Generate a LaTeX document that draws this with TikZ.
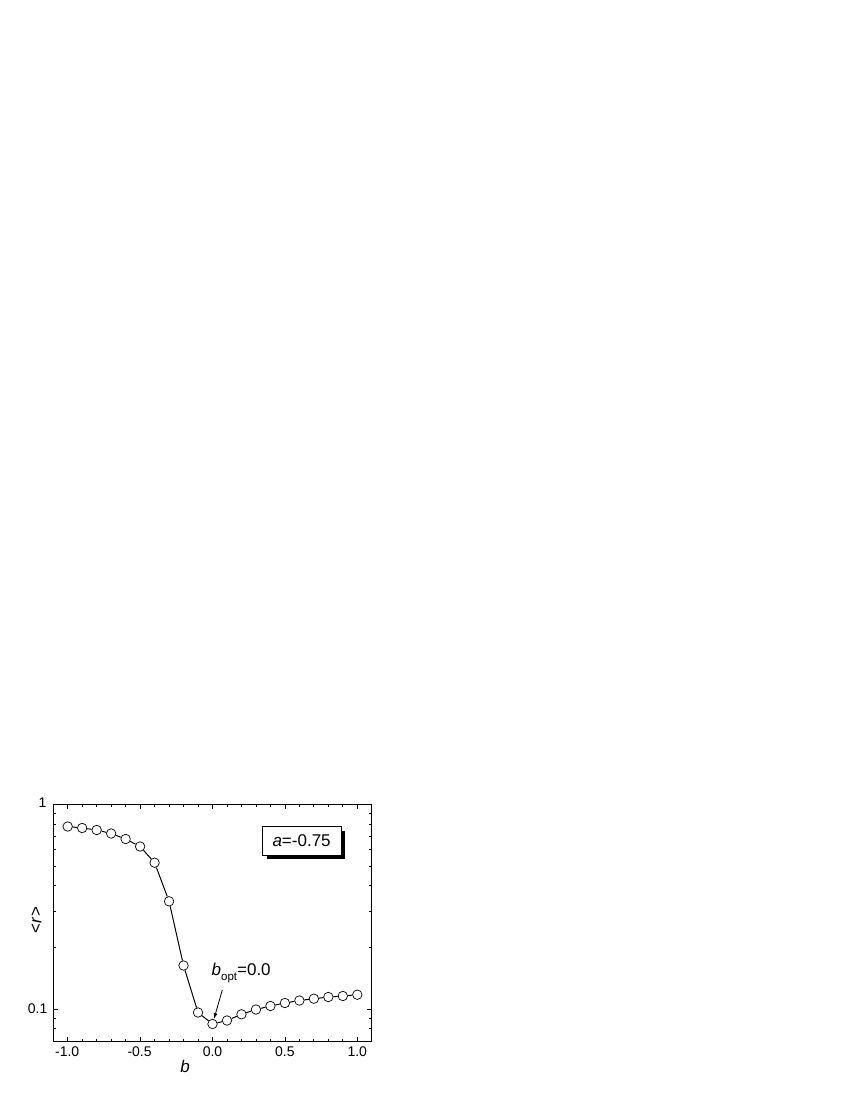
\documentclass[tikz,border=0pt]{standalone}
\usepackage{fontspec}
\setmainfont{Liberation Sans}
\usetikzlibrary{arrows.meta,shadows}
\begin{document}
\begin{tikzpicture}[x=1bp,y=-1bp,
  axisline/.style={line width=1bp,black},
  tickline/.style={line width=0.8bp,black},
  ticklabel/.style={inner sep=0pt,font=\fontsize{14bp}{16bp}\selectfont},
  biglabel/.style={inner sep=0pt,font=\fontsize{17bp}{20bp}\selectfont},
  datapt/.style={circle,draw,fill=white,line width=0.7bp,minimum size=9.5bp,inner sep=0pt,
    path picture={\fill (path picture bounding box.center) circle (0.6bp);}},
  dataline/.style={line width=1bp,black},
  legendbox/.style={draw,line width=0.6bp,fill=white,minimum width=78.7bp,minimum height=28.3bp,
    inner sep=0pt,font=\fontsize{17bp}{20bp}\selectfont,
    drop shadow={shadow xshift=4.5bp,shadow yshift=-4bp,opacity=1,fill=black}},
  pointer/.style={line width=0.8bp,-{Latex[length=6bp,width=4bp]}}
]
\useasboundingbox (0,0) rectangle (850,1100);

% frame
\draw[axisline] (53,804.3) rectangle (371.5,1041.5);

% x ticks
\foreach \i in {-10,...,10}{
  \pgfmathsetmacro{\xx}{212.5+14.48*\i}
  \pgfmathsetmacro{\tl}{ifthenelse(mod(abs(\i),5)==0,4.5,2.5)}
  \draw[tickline] (\xx,1041.5) -- ++(0,-\tl);
  \draw[tickline] (\xx,804.3) -- ++(0,\tl);
}
% y ticks
\foreach \v in {0.08,0.09,0.2,0.3,0.4,0.5,0.6,0.7,0.8,0.9}{
  \pgfmathsetmacro{\yy}{804.3-204.7*log10(\v)}
  \draw[tickline] (53,\yy) -- ++(2.5,0);
  \draw[tickline] (371.5,\yy) -- ++(-2.5,0);
}
\draw[tickline] (53,1009) -- ++(4.5,0);
\draw[tickline] (371.5,1009) -- ++(-4.5,0);

% tick labels
\node[ticklabel,anchor=base] (xm10) at (67.2,1056) {-1.0};
\node[ticklabel,anchor=base] (xm05) at (139.6,1056) {-0.5};
\node[ticklabel,anchor=base] (x00) at (212.5,1056) {0.0};
\node[ticklabel,anchor=base] (x05) at (284.9,1056) {0.5};
\node[ticklabel,anchor=base] (x10) at (357.3,1056) {1.0};
\node[ticklabel,anchor=base east] (y01) at (47.5,1013.8) {0.1};
\node[ticklabel,anchor=base east] (y1) at (46.5,807.2) {1};

% axis labels
\node[biglabel] (xlab) at (185,1066) {\itshape b};
\node[biglabel,rotate=90] (ylab) at (36.5,920) {<\textit{r}>};

% data
\foreach \n/\b/\y in {1/-1.0/826.5,2/-0.9/828,3/-0.8/830,4/-0.7/833.5,5/-0.6/839,
  6/-0.5/846.5,7/-0.4/862.7,8/-0.3/901.3,9/-0.2/965.5,10/-0.1/1012.5,11/0.0/1024,
  12/0.1/1020.5,13/0.2/1014.3,14/0.3/1009.5,15/0.4/1006,16/0.5/1003,17/0.6/1000.5,
  18/0.7/998.7,19/0.8/997,20/0.9/996,21/1.0/994.7}{
  \node[datapt] (p\n) at ({212.5+144.8*\b},\y) {};
}
\foreach \a [evaluate=\a as \c using int(\a+1)] in {1,...,20}{
  \draw[dataline] (p\a) -- (p\c);
}

% annotation
\node[biglabel,anchor=base west] (bopt) at (211.5,975) {\itshape b\upshape\raisebox{-5bp}{\fontsize{11.5bp}{12bp}\selectfont opt}=0.0};
\coordinate (arrstart) at (222.3,990);
\draw[pointer] (arrstart) -- (p11);

% legend
\node[legendbox] (legend) at (301.6,840.8) {\textit{a}=-0.75};
\end{tikzpicture}
\end{document}
